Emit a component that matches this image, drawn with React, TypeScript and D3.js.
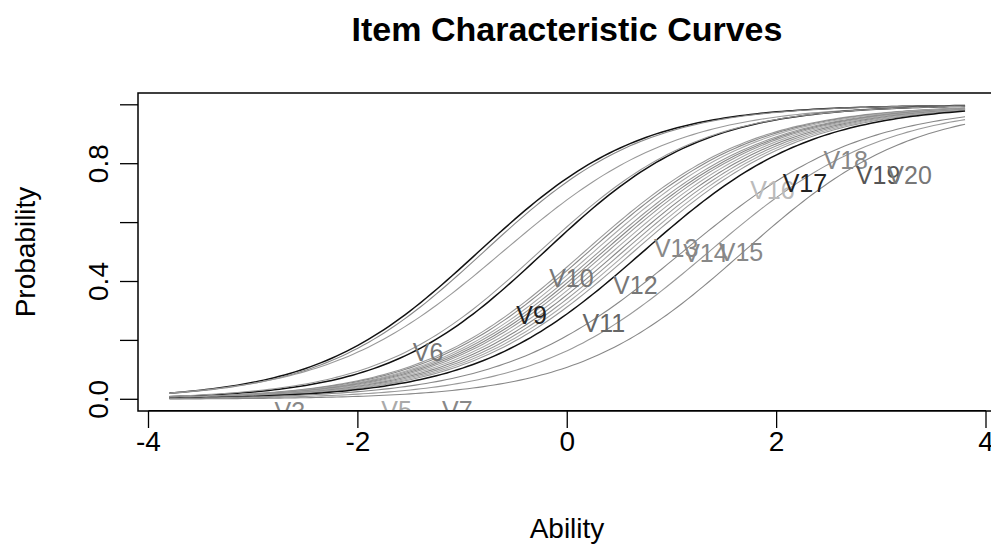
import { useEffect, useRef } from "react";
import * as d3 from "d3";

// item parameters (2PL: difficulty, discrimination)
const items = d3.range(1, 21).map((i) => `V${i}`);
const difficulty = [
  -0.85, -0.8, -0.62, -0.22, -0.27, 0.16, 0.2, 0.25, 0.3, 0.34,
  0.38, 0.43, 0.48, 0.53, 0.58, 0.63, 0.72, 1.1, 1.35, 1.68,
];
const discrimination = [
  1.3, 1.3, 1.2, 1.32, 1.3, 1.25, 1.25, 1.25, 1.24, 1.24,
  1.24, 1.24, 1.24, 1.24, 1.24, 1.24, 1.24, 1.17, 1.2, 1.25,
];
const lineColors = [
  "#111", "#888", "#999", "#111", "#999", "#999", "#888", "#aaa", "#999", "#888",
  "#999", "#aaa", "#888", "#999", "#aaa", "#999", "#111", "#888", "#999", "#888",
];
const abilityGrid = d3.range(-3.8, 3.801, 0.05);

// label positions (ability, probability)
const labelAbility = [
  -3.2, -2.9, -2.65, -2.1, -1.63, -1.33, -1.05, -0.7, -0.34, 0.04,
  0.35, 0.65, 1.04, 1.32, 1.66, 1.96, 2.27, 2.66, 2.97, 3.27,
];
const labelProb = [
  -0.1, -0.08, -0.04, -0.09, -0.035, 0.161, -0.035, -0.08, 0.286, 0.412,
  0.259, 0.388, 0.514, 0.497, 0.5, 0.71, 0.735, 0.812, 0.761, 0.761,
];
const labelColors = [
  "#888", "#888", "#888", "#888", "#aaa", "#777", "#888", "#ccc", "#222", "#777",
  "#666", "#777", "#888", "#888", "#888", "#bbb", "#222", "#888", "#555", "#777",
];

const xTicks = [-4, -2, 0, 2, 4];
const yTicks = [0, 0.2, 0.4, 0.6, 0.8, 1.0];
const yTickLabels = ["0.0", "0.4", "0.8"];

const width = 991;
const height = 544;

function App() {
  const svgRef = useRef<SVGSVGElement>(null);

  useEffect(() => {
    const svg = d3.select(svgRef.current);
    svg.selectAll("*").remove();

    const x = d3.scaleLinear().domain([-4, 4]).range([148.5, 986]);
    const y = d3.scaleLinear().domain([0, 1]).range([399.3, 104.8]);
    const box = { left: 138, right: 997, top: 93, bottom: 411 };

    svg
      .append("defs")
      .append("clipPath")
      .attr("id", "plotclip")
      .append("rect")
      .attr("x", box.left)
      .attr("y", box.top)
      .attr("width", box.right - box.left)
      .attr("height", box.bottom - box.top);

    const plot = svg.append("g").attr("clip-path", "url(#plotclip)");

    const line = d3
      .line<number>()
      .x((t) => x(t))
      .curve(d3.curveLinear);

    items.forEach((_, i) => {
      const prob = (t: number) =>
        1 / (1 + Math.exp(-discrimination[i] * (t - difficulty[i])));
      plot
        .append("path")
        .datum(abilityGrid)
        .attr("fill", "none")
        .attr("stroke", lineColors[i])
        .attr("stroke-width", lineColors[i] === "#111" ? 1.5 : 1.1)
        .attr("d", line.y((t) => y(prob(t))));
    });

    plot
      .selectAll("text.lab")
      .data(items)
      .enter()
      .append("text")
      .attr("class", "lab")
      .attr("x", (_, i) => x(labelAbility[i]))
      .attr("y", (_, i) => y(labelProb[i]))
      .attr("text-anchor", "middle")
      .attr("dominant-baseline", "central")
      .attr("font-family", "Liberation Sans, Arial, sans-serif")
      .attr("font-size", 25)
      .attr("fill", (_, i) => labelColors[i])
      .text((d) => d);

    // box
    svg
      .append("rect")
      .attr("x", box.left)
      .attr("y", box.top)
      .attr("width", box.right - box.left)
      .attr("height", box.bottom - box.top)
      .attr("fill", "none")
      .attr("stroke", "#000")
      .attr("stroke-width", 1.5);

    const font = "Liberation Sans, Arial, sans-serif";

    // x axis
    const xAxis = svg.append("g");
    xAxis
      .append("line")
      .attr("x1", x(-4))
      .attr("x2", x(4))
      .attr("y1", 410.5)
      .attr("y2", 410.5)
      .attr("stroke", "#000");
    xAxis
      .selectAll("line.tick")
      .data(xTicks)
      .enter()
      .append("line")
      .attr("class", "tick")
      .attr("x1", (d) => x(d))
      .attr("x2", (d) => x(d))
      .attr("y1", 411)
      .attr("y2", 428)
      .attr("stroke", "#000")
      .attr("stroke-width", 1.3);
    xAxis
      .selectAll("text")
      .data(xTicks)
      .enter()
      .append("text")
      .attr("x", (d) => x(d))
      .attr("y", 441)
      .attr("text-anchor", "middle")
      .attr("dominant-baseline", "central")
      .attr("font-family", font)
      .attr("font-size", 28)
      .text((d) => String(d));

    // y axis
    const yAxis = svg.append("g");
    yAxis
      .selectAll("line.tick")
      .data(yTicks)
      .enter()
      .append("line")
      .attr("class", "tick")
      .attr("x1", 120)
      .attr("x2", box.left)
      .attr("y1", (d) => y(d))
      .attr("y2", (d) => y(d))
      .attr("stroke", "#000")
      .attr("stroke-width", 1.3);
    yAxis
      .selectAll("text")
      .data(yTickLabels)
      .enter()
      .append("text")
      .attr("transform", (d) => `translate(98,${y(+d)}) rotate(-90)`)
      .attr("text-anchor", "middle")
      .attr("dominant-baseline", "central")
      .attr("font-family", font)
      .attr("font-size", 28)
      .text((d) => d);

    svg
      .append("text")
      .attr("x", 567)
      .attr("y", 29)
      .attr("text-anchor", "middle")
      .attr("dominant-baseline", "central")
      .attr("font-family", font)
      .attr("font-weight", "bold")
      .attr("font-size", 34)
      .text("Item Characteristic Curves");

    svg
      .append("text")
      .attr("x", 567)
      .attr("y", 528)
      .attr("text-anchor", "middle")
      .attr("dominant-baseline", "central")
      .attr("font-family", font)
      .attr("font-size", 28)
      .text("Ability");

    svg
      .append("text")
      .attr("transform", `translate(25,252) rotate(-90)`)
      .attr("text-anchor", "middle")
      .attr("dominant-baseline", "central")
      .attr("font-family", font)
      .attr("font-size", 28)
      .text("Probability");
  }, []);

  return (
    <svg
      ref={svgRef}
      width={width}
      height={height}
      style={{ position: "absolute", left: 0, top: 0, background: "#fff" }}
    />
  );
}

export default App;
